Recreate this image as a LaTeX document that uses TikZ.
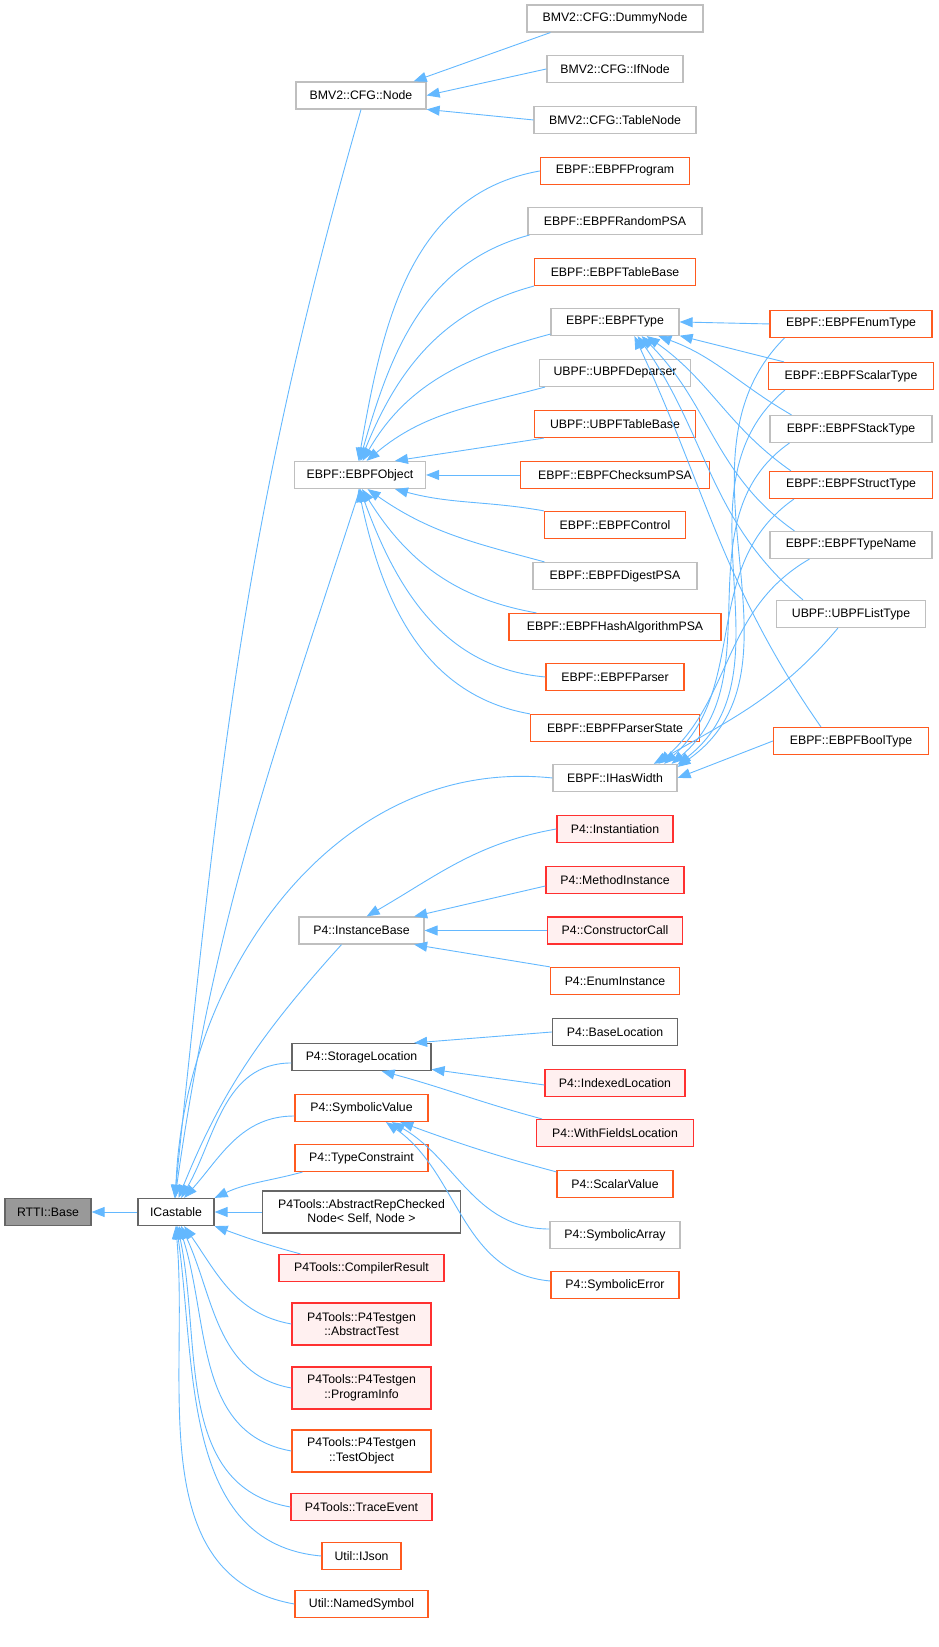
\documentclass[tikz,border=0pt]{standalone}
\usepackage{fontspec}
\setmainfont{Liberation Sans}
\usetikzlibrary{arrows.meta,calc}
\definecolor{eb}{HTML}{63B8FF}
\definecolor{lg}{HTML}{BFBFBF}
\definecolor{dg}{HTML}{666666}
\definecolor{orn}{HTML}{FF5A1F}
\definecolor{rd}{HTML}{FF3030}
\definecolor{rf}{HTML}{FFF0F0}
\definecolor{gf}{HTML}{999999}
\newcommand\mynode[6]{\node[#2,minimum width={#5*0.1pt}] (#1) at (#3,#4) {#6};}
\begin{document}
\begin{tikzpicture}[x=0.1pt,y=-0.1pt,
  font=\fontsize{1.23}{1.45}\selectfont,
  b/.style={draw,line width=0.12pt,minimum height=2.7pt,inner sep=0.1pt,align=center,fill=white},
  g/.style={b,draw=lg},
  d/.style={b,draw=dg},
  o/.style={b,draw=orn},
  r/.style={b,draw=rd,fill=rf},
  tall/.style={minimum height=4.2pt},
  e/.style={draw=eb,line width=0.09pt,arrows={Triangle[length=1.3pt,width=1pt,fill=eb]-}}]
\useasboundingbox (0,0) rectangle (938,1647);
% column 1
\mynode{rt}{b,draw=dg,fill=gf}{48}{1212}{86}{RTTI::Base}
\mynode{ic}{d}{176}{1212}{76}{ICastable}
% column 2
\mynode{bm}{g}{361}{95.5}{130}{BMV2::CFG::Node}
\mynode{eo}{g}{360}{475}{131}{EBPF::EBPFObject}
\mynode{ib}{g}{361.5}{930.5}{125}{P4::InstanceBase}
\mynode{sl}{d}{361.5}{1057}{139}{P4::StorageLocation}
\mynode{sv}{o}{361.5}{1108}{133}{P4::SymbolicValue}
\mynode{tc}{o}{361.5}{1158}{133}{P4::TypeConstraint}
\mynode{ar}{d,tall}{361.5}{1212}{198}{P4Tools::AbstractRepChecked\\Node< Self, Node >}
\mynode{cr}{r}{361.5}{1268}{165}{P4Tools::CompilerResult}
\mynode{at}{r,tall}{361.5}{1324}{139}{P4Tools::P4Testgen\\::AbstractTest}
\mynode{pi}{r,tall}{361.5}{1388}{139}{P4Tools::P4Testgen\\::ProgramInfo}
\mynode{to}{o,tall}{361.5}{1451}{139}{P4Tools::P4Testgen\\::TestObject}
\mynode{te}{r}{361.5}{1507}{141}{P4Tools::TraceEvent}
\mynode{ij}{o}{361.5}{1556}{79}{Util::IJson}
\mynode{ns}{o}{361.5}{1604}{133}{Util::NamedSymbol}
% column 3
\mynode{dn}{g}{615}{18.5}{176}{BMV2::CFG::DummyNode}
\mynode{ifn}{g}{615}{69}{136}{BMV2::CFG::IfNode}
\mynode{tn}{g}{615}{120}{162}{BMV2::CFG::TableNode}
\mynode{pg}{o}{615}{171}{149}{EBPF::EBPFProgram}
\mynode{rp}{g}{615}{221}{174}{EBPF::EBPFRandomPSA}
\mynode{tb}{o}{615}{272}{161}{EBPF::EBPFTableBase}
\mynode{et}{g}{615}{322}{128}{EBPF::EBPFType}
\mynode{ud}{g}{615}{373}{151}{UBPF::UBPFDeparser}
\mynode{ut}{o}{615}{424}{161}{UBPF::UBPFTableBase}
\mynode{cs}{o}{615}{475}{189}{EBPF::EBPFChecksumPSA}
\mynode{ct}{o}{615}{525}{141}{EBPF::EBPFControl}
\mynode{dp}{g}{615}{576}{164}{EBPF::EBPFDigestPSA}
\mynode{ha}{o}{615}{627}{212}{EBPF::EBPFHashAlgorithmPSA}
\mynode{pa}{o}{615}{677}{138}{EBPF::EBPFParser}
\mynode{ps}{o}{615}{728}{169}{EBPF::EBPFParserState}
\mynode{hw}{g}{615}{778}{124}{EBPF::IHasWidth}
\mynode{in}{r}{615}{829}{116}{P4::Instantiation}
\mynode{mi}{r}{615}{880}{138}{P4::MethodInstance}
\mynode{cc}{r}{615}{930.5}{135}{P4::ConstructorCall}
\mynode{ei}{o}{615}{981}{129}{P4::EnumInstance}
\mynode{bl}{d}{615}{1032}{125}{P4::BaseLocation}
\mynode{il}{r}{615}{1083}{140}{P4::IndexedLocation}
\mynode{wf}{r}{615}{1133}{157}{P4::WithFieldsLocation}
\mynode{sc}{o}{615}{1184}{116}{P4::ScalarValue}
\mynode{sa}{g}{615}{1235}{130}{P4::SymbolicArray}
\mynode{se}{o}{615}{1285}{128}{P4::SymbolicError}
% column 4
\mynode{en}{o}{851}{324}{162}{EBPF::EBPFEnumType}
\mynode{st}{o}{851}{376}{165}{EBPF::EBPFScalarType}
\mynode{sk}{g}{851}{429}{162}{EBPF::EBPFStackType}
\mynode{su}{o}{851}{485}{163}{EBPF::EBPFStructType}
\mynode{tp}{g}{851}{545}{162}{EBPF::EBPFTypeName}
\mynode{ul}{g}{851}{614}{149}{UBPF::UBPFListType}
\mynode{bo}{o}{851}{741}{155}{EBPF::EBPFBoolType}
% edges
\draw[e] (rt.east) -- (ic.west);
\draw[e] (ic.96) to[out=84,in=-106] (bm.south);
\draw[e] (ic.94) to[out=82,in=-108] (eo.south);
\draw[e] (ic.92) to[out=88,in=174] (hw.west);
\draw[e] (ic.80) to[out=68,in=-132] ($(ib.south)+(-20,0)$);
\draw[e] (ic.70) to[out=60,in=180] ($(sl.west)+(0,6)$);
\draw[e] (ic.60) to[out=48,in=180] ($(sv.west)+(0,8)$);
\draw[e] (ic.north east) to[out=25,in=195] ($(tc.south west)+(8,0)$);
\draw[e] (ic.east) -- (ar.west);
\draw[e] (ic.south east) to[out=-20,in=165] ($(cr.north west)+(22,0)$);
\draw[e] (ic.-60) to[out=-55,in=170] (at.west);
\draw[e] (ic.-70) to[out=-65,in=170] (pi.west);
\draw[e] (ic.-78) to[out=-72,in=170] (to.west);
\draw[e] (ic.-84) to[out=-78,in=170] (te.west);
\draw[e] (ic.-88) to[out=-82,in=175] (ij.west);
\draw[e] (ic.-91) to[out=-85,in=170] (ns.west);
% BMV2
\draw[e] (bm.15) -- ($(dn.south west)+(24,0)$);
\draw[e] (bm.east) -- (ifn.west);
\draw[e] (bm.-12) -- (tn.west);
% EBPFObject
\draw[e] (eo.96) to[out=80,in=190] (pg.west);
\draw[e] (eo.92) to[out=74,in=195] ($(rp.south west)+(2,0)$);
\draw[e] (eo.88) to[out=68,in=195] ($(tb.south west)+(0,0)$);
\draw[e] (eo.80) to[out=60,in=195] ($(et.south west)+(0,-2)$);
\draw[e] (eo.65) to[out=40,in=195] ($(ud.south west)+(6,0)$);
\draw[e] (eo.22) -- ($(ut.south west)+(10,0)$);
\draw[e] (eo.east) -- (cs.west);
\draw[e] (eo.-22) to[out=-15,in=170] ($(ct.north west)+(0,0)$);
\draw[e] (eo.-62) to[out=-35,in=165] ($(dp.north west)+(12,0)$);
\draw[e] (eo.-82) to[out=-58,in=170] ($(ha.north west)+(28,0)$);
\draw[e] (eo.-90) to[out=-70,in=175] (pa.west);
\draw[e] (eo.-96) to[out=-78,in=170] ($(ps.north west)+(0,0)$);
% InstanceBase
\draw[e] (ib.70) to[out=30,in=190] (in.west);
\draw[e] (ib.15) -- ($(mi.west)+(0,6)$);
\draw[e] (ib.east) -- (cc.west);
\draw[e] (ib.-15) -- ($(ei.north west)+(0,0)$);
% StorageLocation
\draw[e] (sl.15) -- (bl.west);
\draw[e] (sl.-10) -- ($(il.west)+(0,2)$);
\draw[e] (sl.-35) to[out=-15,in=165] ($(wf.north west)+(6,0)$);
% SymbolicValue
\draw[e] (sv.-20) to[out=-20,in=165] ($(sc.north west)+(0,2)$);
\draw[e] (sv.-25) to[out=-30,in=180] ($(sa.west)+(0,-6)$);
\draw[e] (sv.-30) to[out=-35,in=175] ($(se.west)+(0,-4)$);
% EBPFType children
\draw[e] (et.east) -- (en.west);
\draw[e] (et.-12) -- ($(st.north west)+(16,0)$);
\draw[e] (et.-18) to[out=-20,in=150] ($(sk.north west)+(22,0)$);
\draw[e] (et.-24) to[out=-35,in=145] ($(su.north west)+(22,0)$);
\draw[e] (et.-28) to[out=-45,in=145] ($(tp.north west)+(25,0)$);
\draw[e] (et.-32) to[out=-55,in=140] ($(ul.north west)+(27,0)$);
\draw[e] (et.-36) to[out=-65,in=125] ($(bo.north west)+(48,0)$);
% IHasWidth children
\draw[e] (hw.10) to[out=35,in=-135] ($(en.south west)+(15,0)$);
\draw[e] (hw.12) to[out=38,in=-140] ($(st.south west)+(17,0)$);
\draw[e] (hw.14) to[out=40,in=-145] ($(sk.south west)+(20,0)$);
\draw[e] (hw.16) to[out=42,in=-145] ($(su.south west)+(25,0)$);
\draw[e] (hw.18) to[out=42,in=-150] ($(tp.south west)+(40,0)$);
\draw[e] (hw.20) to[out=30,in=-130] ($(ul.south west)+(62,0)$);
\draw[e] (hw.east) -- (bo.west);
\end{tikzpicture}
\end{document}
